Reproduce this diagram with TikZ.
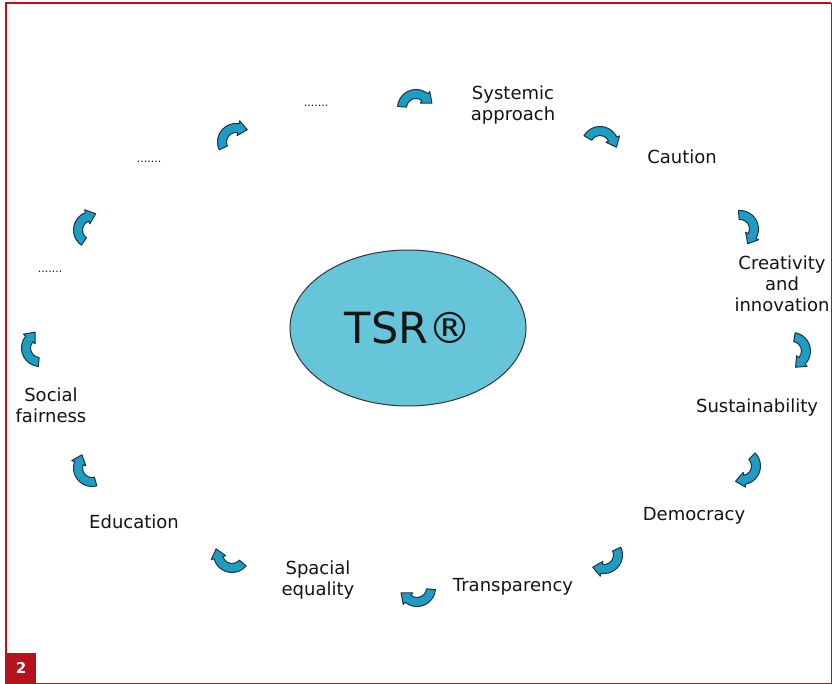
\documentclass[tikz,border=0pt]{standalone}
\usepackage{fontspec}
\setmainfont{DejaVu Sans}
\usetikzlibrary{shapes.geometric}
\definecolor{framered}{HTML}{B5121B}
\definecolor{arrowblue}{HTML}{1E9CC4}
\definecolor{arrowdark}{HTML}{1C3440}
\definecolor{tsrfill}{HTML}{67C5DA}
\definecolor{txt}{HTML}{141414}
\tikzset{
  lbl/.style={text=txt, align=center, font=\fontsize{18}{21}\selectfont, inner sep=0pt},
  dots/.style={text=txt, font=\fontsize{11}{12}\selectfont, inner sep=0pt},
  arrowbody/.style={fill=arrowblue, draw=arrowdark, line width=1pt, line join=round},
  cyc/.pic={
    \pgfmathsetmacro\aA{#1+85}
    \pgfmathsetmacro\aB{#1-40}
    \pgfmathsetmacro\tipx{14*cos(\aB)+9*cos(\aB-90)}
    \pgfmathsetmacro\tipy{14*sin(\aB)+9*sin(\aB-90)}
    \filldraw[arrowbody] (\aA:18.5) arc[start angle=\aA, end angle=\aB, radius=18.5]
      -- (\aB:21.5) -- (\tipx,\tipy) -- (\aB:6.5) -- (\aB:9.5)
      arc[start angle=\aB, end angle=\aA, radius=9.5] -- cycle;
  }
}
\begin{document}
\begin{tikzpicture}[x=1pt,y=1pt]
\useasboundingbox (0,0) rectangle (832,-684);
\fill[white] (0,0) rectangle (832,-684);
% frame
\draw[framered, line width=1.5pt] (6,-684) -- (6,-3) -- (831,-3);
\draw[framered, line width=1pt] (831,-3) -- (831,-683) -- (6,-683);
\node[fill=framered, minimum width=30pt, minimum height=31pt, inner sep=0pt, anchor=south west,
      text=white, font=\bfseries\fontsize{15}{15}\selectfont] (num) at (6,-684) {2};
% centre
\node[ellipse, draw=black!80, line width=1pt, fill=tsrfill, minimum width=236pt, minimum height=156pt,
      font=\fontsize{43}{43}\selectfont, text=txt] (tsr) at (408,-328) {TSR®};
% labels
\node[lbl] (sys) at (513,-105) {Systemic\\approach};
\node[lbl] (cau) at (682,-157) {Caution};
\node[lbl] (cre) at (782,-284) {Creativity\\and\\innovation};
\node[lbl] (sus) at (757,-408) {Sustainability};
\node[lbl] (dem) at (694,-516) {Democracy};
\node[lbl] (tra) at (513,-587) {Transparency};
\node[lbl] (spa) at (318,-580) {Spacial\\equality};
\node[lbl] (edu) at (134,-522) {Education};
\node[lbl] (soc) at (51,-405) {Social\\fairness};
\node[dots] (d1) at (50,-272) {.......};
\node[dots] (d2) at (149,-162) {.......};
\node[dots] (d3) at (316,-106) {.......};
% cycle arrows
\pic at (416,-108) {cyc=90};
\pic at (600,-145) {cyc=65};
\pic at (740,-229) {cyc=10};
\pic at (792,-351) {cyc=-5};
\pic at (742,-466) {cyc=-40};
\pic at (604,-555) {cyc=-60};
\pic at (417,-588) {cyc=-90};
\pic at (232,-554) {cyc=-125};
\pic at (92,-468) {cyc=-160};
\pic at (40,-348) {cyc=180};
\pic at (92,-230) {cyc=150};
\pic at (236,-142) {cyc=120};
\end{tikzpicture}
\end{document}
